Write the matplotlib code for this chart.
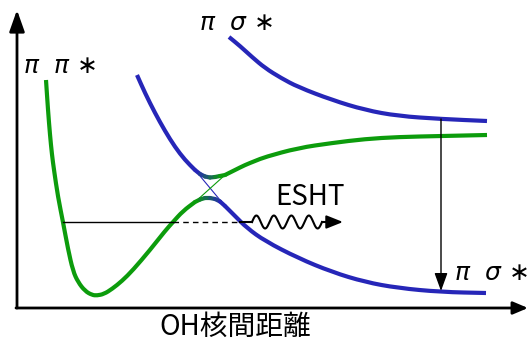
import numpy as np
import matplotlib.pyplot as plt
from matplotlib.collections import LineCollection
from matplotlib.colors import to_rgb
from matplotlib.path import Path
from matplotlib.patches import PathPatch

# ππ* 状態（井戸側、交差点まで）
pp_x = [2.9, 3.1, 3.3, 3.5, 3.7, 4.1, 4.6, 5.1, 5.6, 6.1, 6.8, 7.5, 8.0, 8.7, 9.5,
        10.5, 11.6, 13.3, 14.8, 15.6, 16.6, 17.8]
pp_y = [22.7, 19.7, 17.2, 15.2, 13.7, 11.0, 8.5, 5.8, 3.6, 2.5, 1.6, 1.2, 1.15, 1.3, 1.8,
        2.6, 3.7, 5.7, 7.6, 8.5, 9.6, 10.5]

# 交差後の上側（緑）
pp_up_x = [20.8, 21.8, 22.8, 23.8, 24.8, 28.1, 31.5, 34.8, 38.1, 42.5, 47.0]
pp_up_y = [13.2, 13.7, 14.2, 14.6, 15.0, 15.9, 16.4, 16.8, 17.0, 17.1, 17.2]

# πσ* 解離性（左上から交差点まで）
ps_x = [12.0, 12.8, 13.8, 14.8, 15.8, 16.8, 17.8]
ps_y = [23.2, 21.4, 19.4, 17.6, 16.0, 14.7, 13.7]

# 交差後の下側（青）
ps_low_x = [20.8, 21.8, 23.0, 24.8, 28.1, 31.5, 34.8, 38.1, 42.4, 46.9]
ps_low_y = [10.1, 9.1, 7.9, 6.6, 4.9, 3.5, 2.5, 1.9, 1.5, 1.4]

# 上の πσ* 曲線
ps2_x = [21.2, 22.3, 23.5, 24.8, 26.4, 28.1, 31.5, 34.8, 38.1, 42.4, 47.0]
ps2_y = [27.0, 26.1, 25.0, 23.9, 22.9, 22.0, 20.7, 19.7, 19.1, 18.8, 18.6]

# 回避交差の上側・下側
cap_up_x = [17.8, 18.3, 18.8, 19.3, 19.8, 20.3, 20.8]
cap_up_y = [13.7, 13.3, 13.05, 12.95, 13.0, 13.1, 13.2]
cap_lo_x = [17.8, 18.3, 18.8, 19.3, 19.8, 20.3, 20.8]
cap_lo_y = [10.5, 10.75, 10.9, 10.9, 10.8, 10.55, 10.1]

# 水平線（振動準位）とトンネル
level = 8.5
lv_start, lv_barrier, lv_dash_end = 4.6, 15.6, 22.3
wave_start, wave_end, wave_arrow = 23.5, 30.5, 32.6

blue = '#2626b8'
green = '#0c9c0c'

fig = plt.figure(figsize=(5.3, 3.4), dpi=100)
ax = fig.add_axes([0, 0, 1, 1])
ax.set_xlim(-1.7, 51.3)
ax.set_ylim(-3.3, 30.7)
ax.axis('off')

# 軸
ax.annotate('', xy=(0, 29.7), xytext=(0, -0.1),
            arrowprops=dict(arrowstyle='-|>,head_length=0.65,head_width=0.23', lw=2,
                            color='black', mutation_scale=20, shrinkA=0, shrinkB=0))
ax.annotate('', xy=(51.1, -0.1), xytext=(-0.1, -0.1),
            arrowprops=dict(arrowstyle='-|>,head_length=0.45,head_width=0.19', lw=2,
                            color='black', mutation_scale=20, shrinkA=0, shrinkB=0))


def smooth(xs, ys, color):
    # 読み取った点を制御点にして滑らかに描く
    p = np.column_stack([xs, ys])
    verts = [p[0], (p[0] + p[1]) / 2]
    codes = [Path.MOVETO, Path.LINETO]
    for i in range(1, len(p) - 1):
        verts += [p[i], (p[i] + p[i + 1]) / 2]
        codes += [Path.CURVE3, Path.CURVE3]
    verts.append(p[-1])
    codes.append(Path.LINETO)
    ax.add_patch(PathPatch(Path(verts, codes), fill=False, edgecolor=color, lw=3,
                           capstyle='butt', joinstyle='round'))


smooth(pp_x, pp_y, green)
smooth(pp_up_x, pp_up_y, green)
smooth(ps_x, ps_y, blue)
smooth(ps_low_x, ps_low_y, blue)
smooth(ps2_x, ps2_y, blue)

# 非断熱（細線）
ax.plot([ps_x[-1], ps_low_x[0]], [ps_y[-1], ps_low_y[0]], color=blue, lw=0.8)
ax.plot([pp_x[-1], pp_up_x[0]], [pp_y[-1], pp_up_y[0]], color=green, lw=0.8)


def grad_line(xs, ys, c0, c1):
    pts = np.column_stack([xs, ys])
    segs = [pts[i:i + 2] for i in range(len(pts) - 1)]
    a, b = np.array(to_rgb(c0)), np.array(to_rgb(c1))
    t = np.linspace(0, 1, len(segs))
    cols = [a * (1 - s) + b * s for s in t]
    ax.add_collection(LineCollection(segs, colors=cols, lw=3, capstyle='round'))


grad_line(cap_up_x, cap_up_y, blue, green)
grad_line(cap_lo_x, cap_lo_y, green, blue)

# 振動準位
ax.plot([lv_start, lv_barrier], [level, level], color='black', lw=1)
ax.plot([lv_barrier, lv_dash_end], [level, level], color='black', lw=1, ls=(0, (4, 3)))
wx = np.linspace(wave_start, wave_end, 200)
wy = level + 0.65 * np.sin(2 * np.pi * (wx - wave_start) / 1.75)
ax.plot([lv_dash_end, wave_start], [level, level], color='black', lw=1.5)
ax.plot(wx, wy, color='black', lw=1.5)
ax.annotate('', xy=(wave_arrow, level), xytext=(wave_end, level),
            arrowprops=dict(arrowstyle='-|>,head_length=0.5,head_width=0.2', lw=1.5,
                            color='black', mutation_scale=20, shrinkA=0, shrinkB=0))

# 垂直遷移
ax.annotate('', xy=(ps_low_x[-2], ps_low_y[-2] + 0.1), xytext=(ps2_x[-2], ps2_y[-2]),
            arrowprops=dict(arrowstyle='-|>,head_length=0.55,head_width=0.2', lw=1,
                            color='black', mutation_scale=20, shrinkA=0, shrinkB=0))

# ラベル
lab = dict(fontsize=18, family=['DejaVu Sans'], va='baseline', ha='left')
ax.text(0.6, 23.4, r'$\pi$  $\pi$ ∗', **lab)
ax.text(18.2, 27.7, r'$\pi$  $\sigma$ ∗', **lab)
ax.text(43.7, 2.7, r'$\pi$  $\sigma$ ∗', **lab)
ax.text(25.8, 10.2, 'ESHT', fontsize=20, family=['Noto Sans CJK JP'],
        va='baseline', ha='left')
ax.text(21.8, -1.95, 'OH核間距離', fontsize=20, family=['Noto Sans CJK JP'],
        va='center', ha='center')

fig.savefig('out.png', dpi=100)
